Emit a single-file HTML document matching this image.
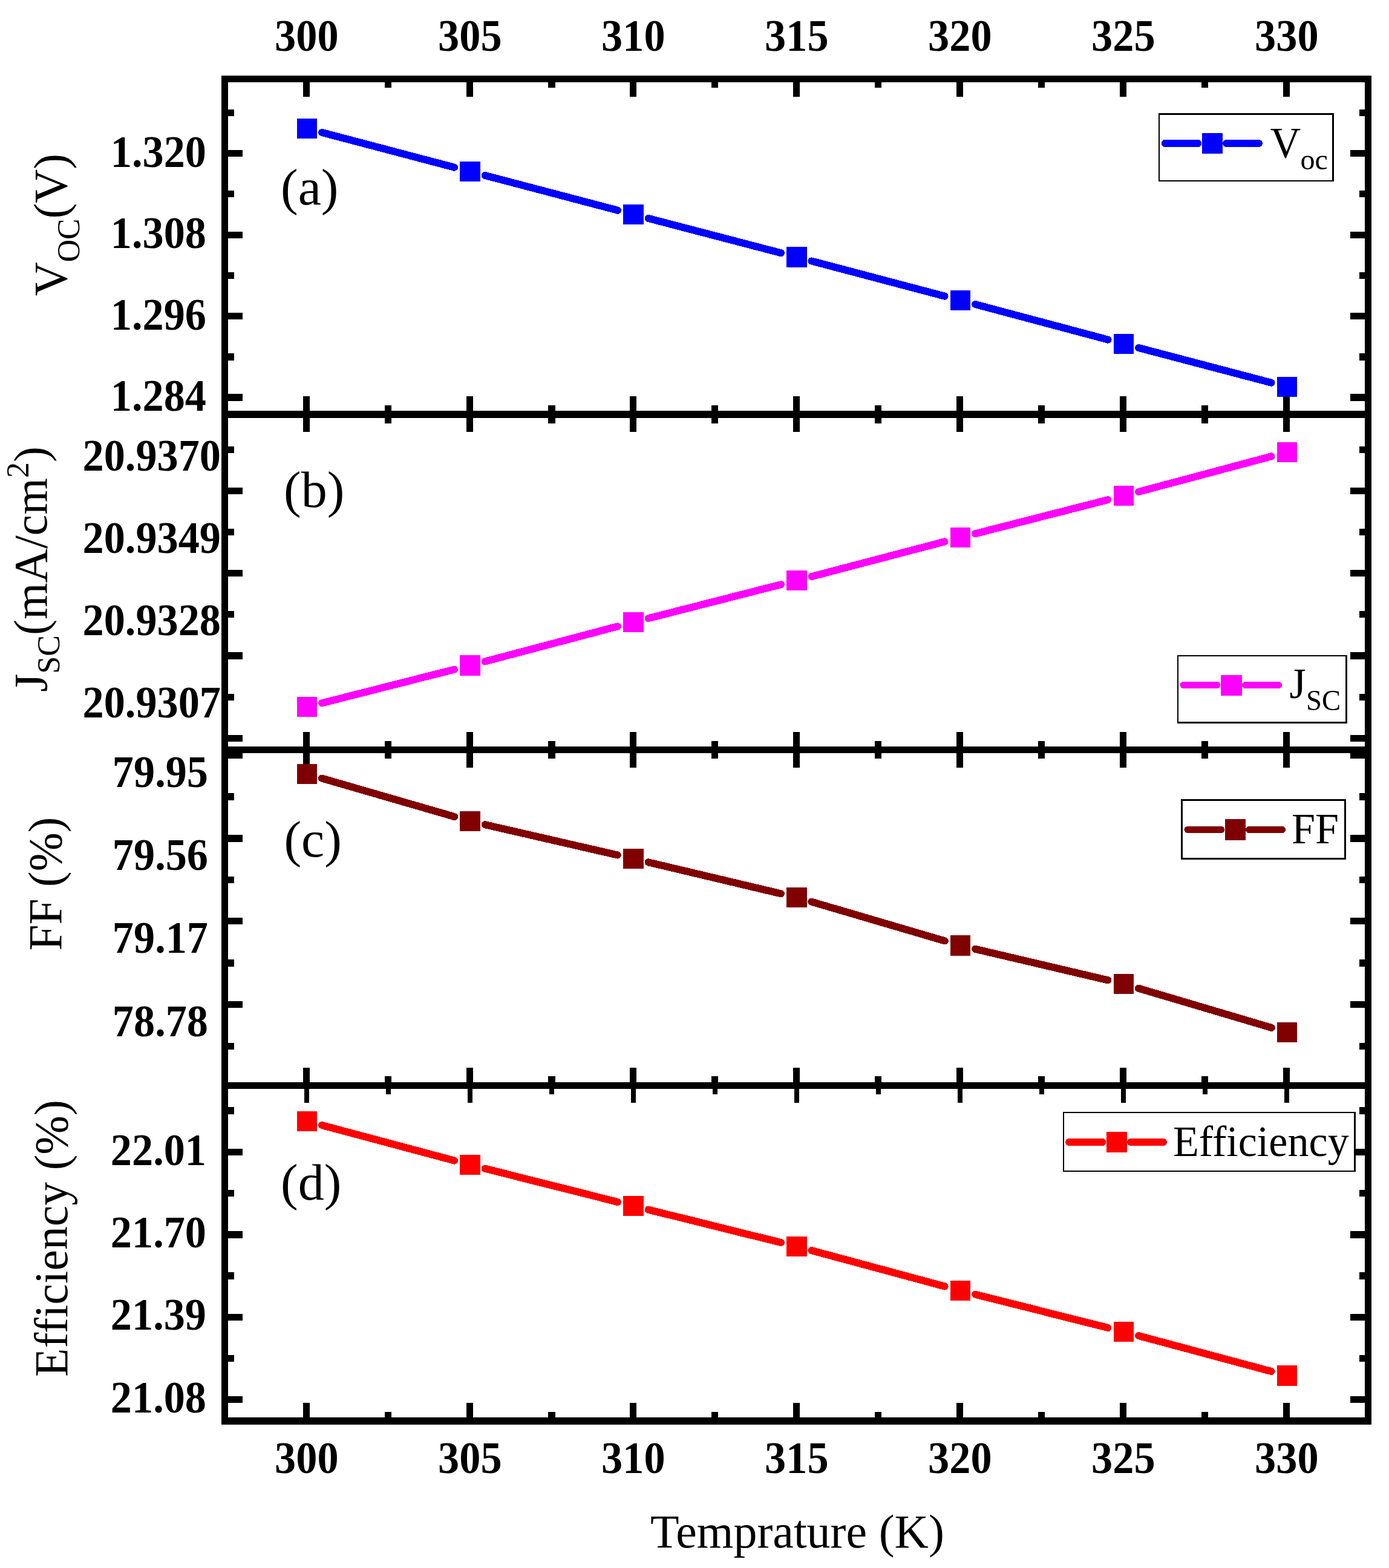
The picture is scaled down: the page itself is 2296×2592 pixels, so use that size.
<!DOCTYPE html>
<html lang="en">
<head>
<meta charset="utf-8">
<title>Temperature dependence of Voc, Jsc, FF and Efficiency</title>
<style>
html,body{margin:0;padding:0;background:#fff;}
body{width:2296px;height:2592px;overflow:hidden;}
svg{display:block;}
text{font-variant-ligatures:none;}
</style>
</head>
<body>
<svg width="2296" height="2592" viewBox="0 0 2296 2592">
<rect x="0" y="0" width="2296" height="2592" fill="#fff"/>
<g shape-rendering="crispEdges">
<rect x="366" y="125" width="11" height="2230" fill="#000"/>
<rect x="2256" y="125" width="11" height="2230" fill="#000"/>
<rect x="366" y="125" width="1901" height="11" fill="#000"/>
<rect x="366" y="679" width="1901" height="12" fill="#000"/>
<rect x="366" y="1234" width="1901" height="11" fill="#000"/>
<rect x="366" y="1789" width="1901" height="11" fill="#000"/>
<rect x="366" y="2343" width="1901" height="12" fill="#000"/>
<rect x="501" y="136" width="11" height="24" fill="#000"/>
<rect x="771" y="136" width="11" height="24" fill="#000"/>
<rect x="1041" y="136" width="11" height="24" fill="#000"/>
<rect x="1311" y="136" width="11" height="24" fill="#000"/>
<rect x="1581" y="136" width="11" height="24" fill="#000"/>
<rect x="1851" y="136" width="11" height="24" fill="#000"/>
<rect x="2121" y="136" width="11" height="24" fill="#000"/>
<rect x="636" y="136" width="11" height="9" fill="#000"/>
<rect x="906" y="136" width="12" height="9" fill="#000"/>
<rect x="1176" y="136" width="11" height="9" fill="#000"/>
<rect x="1446" y="136" width="11" height="9" fill="#000"/>
<rect x="1716" y="136" width="11" height="9" fill="#000"/>
<rect x="1986" y="136" width="11" height="9" fill="#000"/>
<rect x="501" y="655" width="11" height="59" fill="#000"/>
<rect x="771" y="655" width="11" height="59" fill="#000"/>
<rect x="1041" y="655" width="11" height="59" fill="#000"/>
<rect x="1311" y="655" width="11" height="59" fill="#000"/>
<rect x="1581" y="655" width="11" height="59" fill="#000"/>
<rect x="1851" y="655" width="11" height="59" fill="#000"/>
<rect x="2121" y="655" width="11" height="59" fill="#000"/>
<rect x="636" y="670" width="11" height="30" fill="#000"/>
<rect x="906" y="670" width="12" height="30" fill="#000"/>
<rect x="1176" y="670" width="11" height="30" fill="#000"/>
<rect x="1446" y="670" width="11" height="30" fill="#000"/>
<rect x="1716" y="670" width="11" height="30" fill="#000"/>
<rect x="1986" y="670" width="11" height="30" fill="#000"/>
<rect x="501" y="1210" width="11" height="59" fill="#000"/>
<rect x="771" y="1210" width="11" height="59" fill="#000"/>
<rect x="1041" y="1210" width="11" height="59" fill="#000"/>
<rect x="1311" y="1210" width="11" height="59" fill="#000"/>
<rect x="1581" y="1210" width="11" height="59" fill="#000"/>
<rect x="1851" y="1210" width="11" height="59" fill="#000"/>
<rect x="2121" y="1210" width="11" height="59" fill="#000"/>
<rect x="636" y="1225" width="11" height="29" fill="#000"/>
<rect x="906" y="1225" width="12" height="29" fill="#000"/>
<rect x="1176" y="1225" width="11" height="29" fill="#000"/>
<rect x="1446" y="1225" width="11" height="29" fill="#000"/>
<rect x="1716" y="1225" width="11" height="29" fill="#000"/>
<rect x="1986" y="1225" width="11" height="29" fill="#000"/>
<rect x="501" y="1765" width="11" height="35" fill="#000"/>
<rect x="771" y="1765" width="11" height="35" fill="#000"/>
<rect x="1041" y="1765" width="11" height="35" fill="#000"/>
<rect x="1311" y="1765" width="11" height="35" fill="#000"/>
<rect x="1581" y="1765" width="11" height="35" fill="#000"/>
<rect x="1851" y="1765" width="11" height="35" fill="#000"/>
<rect x="2121" y="1765" width="11" height="35" fill="#000"/>
<rect x="636" y="1779" width="11" height="21" fill="#000"/>
<rect x="906" y="1779" width="12" height="21" fill="#000"/>
<rect x="1176" y="1779" width="11" height="21" fill="#000"/>
<rect x="1446" y="1779" width="11" height="21" fill="#000"/>
<rect x="1716" y="1779" width="11" height="21" fill="#000"/>
<rect x="1986" y="1779" width="11" height="21" fill="#000"/>
<rect x="503" y="1800" width="8" height="23" fill="#000"/>
<rect x="773" y="1800" width="8" height="23" fill="#000"/>
<rect x="1043" y="1800" width="8" height="23" fill="#000"/>
<rect x="1313" y="1800" width="8" height="23" fill="#000"/>
<rect x="1583" y="1800" width="8" height="23" fill="#000"/>
<rect x="1853" y="1800" width="8" height="23" fill="#000"/>
<rect x="2123" y="1800" width="8" height="23" fill="#000"/>
<rect x="638" y="1800" width="8" height="9" fill="#000"/>
<rect x="908" y="1800" width="8" height="9" fill="#000"/>
<rect x="1178" y="1800" width="8" height="9" fill="#000"/>
<rect x="1448" y="1800" width="8" height="9" fill="#000"/>
<rect x="1718" y="1800" width="8" height="9" fill="#000"/>
<rect x="1988" y="1800" width="8" height="9" fill="#000"/>
<rect x="501" y="2319" width="11" height="24" fill="#000"/>
<rect x="771" y="2319" width="11" height="24" fill="#000"/>
<rect x="1041" y="2319" width="11" height="24" fill="#000"/>
<rect x="1311" y="2319" width="11" height="24" fill="#000"/>
<rect x="1581" y="2319" width="11" height="24" fill="#000"/>
<rect x="1851" y="2319" width="11" height="24" fill="#000"/>
<rect x="2121" y="2319" width="11" height="24" fill="#000"/>
<rect x="636" y="2334" width="11" height="9" fill="#000"/>
<rect x="906" y="2334" width="12" height="9" fill="#000"/>
<rect x="1176" y="2334" width="11" height="9" fill="#000"/>
<rect x="1446" y="2334" width="11" height="9" fill="#000"/>
<rect x="1716" y="2334" width="11" height="9" fill="#000"/>
<rect x="1986" y="2334" width="11" height="9" fill="#000"/>
<rect x="377" y="181" width="10" height="11" fill="#000"/>
<rect x="2247" y="181" width="9" height="11" fill="#000"/>
<rect x="377" y="248" width="24" height="11" fill="#000"/>
<rect x="2232" y="248" width="24" height="11" fill="#000"/>
<rect x="377" y="315" width="10" height="11" fill="#000"/>
<rect x="2247" y="315" width="9" height="11" fill="#000"/>
<rect x="377" y="383" width="24" height="11" fill="#000"/>
<rect x="2232" y="383" width="24" height="11" fill="#000"/>
<rect x="377" y="450" width="10" height="11" fill="#000"/>
<rect x="2247" y="450" width="9" height="11" fill="#000"/>
<rect x="377" y="517" width="24" height="11" fill="#000"/>
<rect x="2232" y="517" width="24" height="11" fill="#000"/>
<rect x="377" y="584" width="10" height="12" fill="#000"/>
<rect x="2247" y="584" width="9" height="12" fill="#000"/>
<rect x="377" y="651" width="24" height="12" fill="#000"/>
<rect x="2232" y="651" width="24" height="12" fill="#000"/>
<rect x="377" y="738" width="10" height="11" fill="#000"/>
<rect x="2247" y="738" width="9" height="11" fill="#000"/>
<rect x="377" y="806" width="24" height="11" fill="#000"/>
<rect x="2232" y="806" width="24" height="11" fill="#000"/>
<rect x="377" y="874" width="10" height="11" fill="#000"/>
<rect x="2247" y="874" width="9" height="11" fill="#000"/>
<rect x="377" y="942" width="24" height="11" fill="#000"/>
<rect x="2232" y="942" width="24" height="11" fill="#000"/>
<rect x="377" y="1010" width="10" height="11" fill="#000"/>
<rect x="2247" y="1010" width="9" height="11" fill="#000"/>
<rect x="377" y="1078" width="24" height="12" fill="#000"/>
<rect x="2232" y="1078" width="24" height="12" fill="#000"/>
<rect x="377" y="1147" width="10" height="11" fill="#000"/>
<rect x="2247" y="1147" width="9" height="11" fill="#000"/>
<rect x="377" y="1215" width="24" height="11" fill="#000"/>
<rect x="2232" y="1215" width="24" height="11" fill="#000"/>
<rect x="377" y="1243" width="24" height="11" fill="#000"/>
<rect x="2232" y="1243" width="24" height="11" fill="#000"/>
<rect x="377" y="1311" width="10" height="12" fill="#000"/>
<rect x="2247" y="1311" width="9" height="12" fill="#000"/>
<rect x="377" y="1380" width="24" height="12" fill="#000"/>
<rect x="2232" y="1380" width="24" height="12" fill="#000"/>
<rect x="377" y="1449" width="10" height="11" fill="#000"/>
<rect x="2247" y="1449" width="9" height="11" fill="#000"/>
<rect x="377" y="1517" width="24" height="11" fill="#000"/>
<rect x="2232" y="1517" width="24" height="11" fill="#000"/>
<rect x="377" y="1586" width="10" height="12" fill="#000"/>
<rect x="2247" y="1586" width="9" height="12" fill="#000"/>
<rect x="377" y="1655" width="24" height="11" fill="#000"/>
<rect x="2232" y="1655" width="24" height="11" fill="#000"/>
<rect x="377" y="1724" width="10" height="11" fill="#000"/>
<rect x="2247" y="1724" width="9" height="11" fill="#000"/>
<rect x="377" y="1830" width="10" height="12" fill="#000"/>
<rect x="2247" y="1830" width="9" height="12" fill="#000"/>
<rect x="377" y="1899" width="24" height="11" fill="#000"/>
<rect x="2232" y="1899" width="24" height="11" fill="#000"/>
<rect x="377" y="1967" width="10" height="11" fill="#000"/>
<rect x="2247" y="1967" width="9" height="11" fill="#000"/>
<rect x="377" y="2035" width="24" height="12" fill="#000"/>
<rect x="2232" y="2035" width="24" height="12" fill="#000"/>
<rect x="377" y="2103" width="10" height="12" fill="#000"/>
<rect x="2247" y="2103" width="9" height="12" fill="#000"/>
<rect x="377" y="2172" width="24" height="11" fill="#000"/>
<rect x="2232" y="2172" width="24" height="11" fill="#000"/>
<rect x="377" y="2240" width="10" height="11" fill="#000"/>
<rect x="2247" y="2240" width="9" height="11" fill="#000"/>
<rect x="377" y="2308" width="24" height="11" fill="#000"/>
<rect x="2232" y="2308" width="24" height="11" fill="#000"/>
</g>
<g stroke="#0000ff" stroke-width="12.1" stroke-linecap="round" fill="none" shape-rendering="crispEdges">
<line x1="532.06" y1="218.97" x2="750.99" y2="276.65"/>
<line x1="801.56" y1="289.96" x2="1020.98" y2="347.66"/>
<line x1="1071.58" y1="360.92" x2="1290.97" y2="418.20"/>
<line x1="1341.56" y1="431.49" x2="1561.49" y2="489.63"/>
<line x1="1612.04" y1="503.04" x2="1831.51" y2="561.57"/>
<line x1="1882.06" y1="574.96" x2="2101.48" y2="632.66"/>
</g>
<g fill="#0000ff" shape-rendering="crispEdges">
<rect x="491" y="196" width="33" height="33" fill="#0000ff"/>
<rect x="760" y="267" width="34" height="33" fill="#0000ff"/>
<rect x="1030" y="338" width="34" height="33" fill="#0000ff"/>
<rect x="1300" y="408" width="34" height="34" fill="#0000ff"/>
<rect x="1571" y="480" width="33" height="33" fill="#0000ff"/>
<rect x="1841" y="552" width="33" height="33" fill="#0000ff"/>
<rect x="2111" y="623" width="33" height="33" fill="#0000ff"/>
</g>
<g stroke="#ff00ff" stroke-width="12.1" stroke-linecap="round" fill="none" shape-rendering="crispEdges">
<line x1="532.12" y1="1162.24" x2="750.93" y2="1106.63"/>
<line x1="801.55" y1="1093.50" x2="1021.00" y2="1035.39"/>
<line x1="1071.61" y1="1022.21" x2="1290.94" y2="966.16"/>
<line x1="1341.57" y1="953.05" x2="1561.48" y2="895.33"/>
<line x1="1612.11" y1="882.21" x2="1831.44" y2="826.16"/>
<line x1="1882.04" y1="812.96" x2="2101.51" y2="754.43"/>
</g>
<g fill="#ff00ff" shape-rendering="crispEdges">
<rect x="491" y="1152" width="33" height="33" fill="#ff00ff"/>
<rect x="760" y="1083" width="34" height="34" fill="#ff00ff"/>
<rect x="1030" y="1012" width="34" height="33" fill="#ff00ff"/>
<rect x="1300" y="943" width="34" height="33" fill="#ff00ff"/>
<rect x="1571" y="872" width="33" height="33" fill="#ff00ff"/>
<rect x="1841" y="803" width="33" height="33" fill="#ff00ff"/>
<rect x="2111" y="731" width="33" height="33" fill="#ff00ff"/>
</g>
<g stroke="#800000" stroke-width="12.1" stroke-linecap="round" fill="none" shape-rendering="crispEdges">
<line x1="531.90" y1="1286.56" x2="751.16" y2="1350.02"/>
<line x1="801.76" y1="1363.18" x2="1020.78" y2="1413.48"/>
<line x1="1071.72" y1="1425.36" x2="1290.83" y2="1477.30"/>
<line x1="1341.37" y1="1490.66" x2="1561.69" y2="1555.41"/>
<line x1="1612.23" y1="1568.82" x2="1831.31" y2="1620.34"/>
<line x1="1881.85" y1="1633.72" x2="2101.71" y2="1698.86"/>
</g>
<g fill="#800000" shape-rendering="crispEdges">
<rect x="491" y="1263" width="33" height="33" fill="#800000"/>
<rect x="760" y="1341" width="34" height="33" fill="#800000"/>
<rect x="1030" y="1403" width="34" height="33" fill="#800000"/>
<rect x="1300" y="1467" width="34" height="33" fill="#800000"/>
<rect x="1571" y="1546" width="33" height="34" fill="#800000"/>
<rect x="1841" y="1610" width="33" height="33" fill="#800000"/>
<rect x="2111" y="1690" width="33" height="33" fill="#800000"/>
</g>
<g stroke="#ff0000" stroke-width="12.1" stroke-linecap="round" fill="none" shape-rendering="crispEdges">
<line x1="532.04" y1="1860.06" x2="751.01" y2="1918.56"/>
<line x1="801.63" y1="1931.70" x2="1020.91" y2="1986.93"/>
<line x1="1071.65" y1="1999.62" x2="1290.89" y2="2054.02"/>
<line x1="1341.52" y1="2067.12" x2="1561.53" y2="2126.49"/>
<line x1="1612.13" y1="2139.70" x2="1831.41" y2="2194.93"/>
<line x1="1882.03" y1="2208.09" x2="2101.52" y2="2267.02"/>
</g>
<g fill="#ff0000" shape-rendering="crispEdges">
<rect x="491" y="1837" width="33" height="33" fill="#ff0000"/>
<rect x="760" y="1909" width="34" height="33" fill="#ff0000"/>
<rect x="1030" y="1977" width="34" height="33" fill="#ff0000"/>
<rect x="1300" y="2044" width="34" height="33" fill="#ff0000"/>
<rect x="1571" y="2117" width="33" height="33" fill="#ff0000"/>
<rect x="1841" y="2185" width="33" height="33" fill="#ff0000"/>
<rect x="2111" y="2257" width="33" height="34" fill="#ff0000"/>
</g>
<g shape-rendering="crispEdges">
<rect x="1915" y="187" width="290" height="113" fill="#fff"/>
<rect x="1915" y="187" width="290" height="3" fill="#000"/>
<rect x="1915" y="298" width="290" height="2" fill="#000"/>
<rect x="1915" y="187" width="2" height="113" fill="#000"/>
<rect x="2202" y="187" width="3" height="113" fill="#000"/>
</g>
<g stroke="#0000ff" stroke-width="12" stroke-linecap="round" shape-rendering="crispEdges"><line x1="1925.5" y1="237.0" x2="1980.5" y2="237.0"/><line x1="2027.0" y1="237.0" x2="2081.0" y2="237.0"/></g>
<g shape-rendering="crispEdges">
<rect x="1987" y="220" width="34" height="34" fill="#0000ff"/>
</g>
<g shape-rendering="crispEdges">
<rect x="1946" y="1083" width="281" height="113" fill="#fff"/>
<rect x="1946" y="1083" width="281" height="2" fill="#000"/>
<rect x="1946" y="1193" width="281" height="3" fill="#000"/>
<rect x="1946" y="1083" width="2" height="113" fill="#000"/>
<rect x="2224" y="1083" width="3" height="113" fill="#000"/>
</g>
<g stroke="#ff00ff" stroke-width="11" stroke-linecap="round" shape-rendering="crispEdges"><line x1="1956.0" y1="1132.5" x2="2012.0" y2="1132.5"/><line x1="2058.5" y1="1132.5" x2="2113.5" y2="1132.5"/></g>
<g shape-rendering="crispEdges">
<rect x="2018" y="1116" width="35" height="34" fill="#ff00ff"/>
</g>
<g shape-rendering="crispEdges">
<rect x="1952" y="1321" width="273" height="100" fill="#fff"/>
<rect x="1952" y="1321" width="273" height="3" fill="#000"/>
<rect x="1952" y="1418" width="273" height="3" fill="#000"/>
<rect x="1952" y="1321" width="3" height="100" fill="#000"/>
<rect x="2222" y="1321" width="3" height="100" fill="#000"/>
</g>
<g stroke="#800000" stroke-width="11" stroke-linecap="round" shape-rendering="crispEdges"><line x1="1963.0" y1="1371.5" x2="2019.0" y2="1371.5"/><line x1="2064.5" y1="1371.5" x2="2119.5" y2="1371.5"/></g>
<g shape-rendering="crispEdges">
<rect x="2025" y="1354" width="34" height="35" fill="#800000"/>
</g>
<g shape-rendering="crispEdges">
<rect x="1757" y="1838" width="484" height="99" fill="#fff"/>
<rect x="1757" y="1838" width="484" height="2" fill="#000"/>
<rect x="1757" y="1935" width="484" height="2" fill="#000"/>
<rect x="1757" y="1838" width="2" height="99" fill="#000"/>
<rect x="2238" y="1838" width="3" height="99" fill="#000"/>
</g>
<g stroke="#ff0000" stroke-width="12" stroke-linecap="round" shape-rendering="crispEdges"><line x1="1767.0" y1="1888.0" x2="1822.5" y2="1888.0"/><line x1="1869.0" y1="1888.0" x2="1923.0" y2="1888.0"/></g>
<g shape-rendering="crispEdges">
<rect x="1829" y="1871" width="34" height="34" fill="#ff0000"/>
</g>
<g font-family="'Liberation Serif',serif" fill="#000">
<text transform="translate(506.8,84.3) scale(0.95,1)" font-size="74" font-weight="bold" text-anchor="middle">300</text>
<text transform="translate(506.8,2435.2) scale(0.95,1)" font-size="74" font-weight="bold" text-anchor="middle">300</text>
<text transform="translate(776.8,84.3) scale(0.95,1)" font-size="74" font-weight="bold" text-anchor="middle">305</text>
<text transform="translate(776.8,2435.2) scale(0.95,1)" font-size="74" font-weight="bold" text-anchor="middle">305</text>
<text transform="translate(1046.8,84.3) scale(0.95,1)" font-size="74" font-weight="bold" text-anchor="middle">310</text>
<text transform="translate(1046.8,2435.2) scale(0.95,1)" font-size="74" font-weight="bold" text-anchor="middle">310</text>
<text transform="translate(1316.8,84.3) scale(0.95,1)" font-size="74" font-weight="bold" text-anchor="middle">315</text>
<text transform="translate(1316.8,2435.2) scale(0.95,1)" font-size="74" font-weight="bold" text-anchor="middle">315</text>
<text transform="translate(1586.8,84.3) scale(0.95,1)" font-size="74" font-weight="bold" text-anchor="middle">320</text>
<text transform="translate(1586.8,2435.2) scale(0.95,1)" font-size="74" font-weight="bold" text-anchor="middle">320</text>
<text transform="translate(1856.8,84.3) scale(0.95,1)" font-size="74" font-weight="bold" text-anchor="middle">325</text>
<text transform="translate(1856.8,2435.2) scale(0.95,1)" font-size="74" font-weight="bold" text-anchor="middle">325</text>
<text transform="translate(2126.8,84.3) scale(0.95,1)" font-size="74" font-weight="bold" text-anchor="middle">330</text>
<text transform="translate(2126.8,2435.2) scale(0.95,1)" font-size="74" font-weight="bold" text-anchor="middle">330</text>
<text transform="translate(341,275.5) scale(0.95,1)" font-size="74" font-weight="bold" text-anchor="end">1.320</text>
<text transform="translate(341,410) scale(0.95,1)" font-size="74" font-weight="bold" text-anchor="end">1.308</text>
<text transform="translate(341,544.5) scale(0.95,1)" font-size="74" font-weight="bold" text-anchor="end">1.296</text>
<text transform="translate(341,679) scale(0.95,1)" font-size="74" font-weight="bold" text-anchor="end">1.284</text>
<text transform="translate(365,777.7) scale(0.95,1)" font-size="74" font-weight="bold" text-anchor="end">20.9370</text>
<text transform="translate(365,914) scale(0.95,1)" font-size="74" font-weight="bold" text-anchor="end">20.9349</text>
<text transform="translate(365,1050) scale(0.95,1)" font-size="74" font-weight="bold" text-anchor="end">20.9328</text>
<text transform="translate(365,1186) scale(0.95,1)" font-size="74" font-weight="bold" text-anchor="end">20.9307</text>
<text transform="translate(344,1301) scale(0.95,1)" font-size="74" font-weight="bold" text-anchor="end">79.95</text>
<text transform="translate(344,1438) scale(0.95,1)" font-size="74" font-weight="bold" text-anchor="end">79.56</text>
<text transform="translate(344,1575) scale(0.95,1)" font-size="74" font-weight="bold" text-anchor="end">79.17</text>
<text transform="translate(344,1712.5) scale(0.95,1)" font-size="74" font-weight="bold" text-anchor="end">78.78</text>
<text transform="translate(341,1925.8) scale(0.95,1)" font-size="74" font-weight="bold" text-anchor="end">22.01</text>
<text transform="translate(341,2061.7) scale(0.95,1)" font-size="74" font-weight="bold" text-anchor="end">21.70</text>
<text transform="translate(341,2197.9) scale(0.95,1)" font-size="74" font-weight="bold" text-anchor="end">21.39</text>
<text transform="translate(341,2334.7) scale(0.95,1)" font-size="74" font-weight="bold" text-anchor="end">21.08</text>
<text transform="translate(464,338) scale(1.024,1)" font-size="84" text-anchor="start">(a)</text>
<text transform="translate(469,838) scale(1.024,1)" font-size="84" text-anchor="start">(b)</text>
<text transform="translate(469.4,1416) scale(1.024,1)" font-size="84" text-anchor="start">(c)</text>
<text transform="translate(464,1983) scale(1.024,1)" font-size="84" text-anchor="start">(d)</text>
<text transform="translate(2099.5,260) scale(0.974,1)" font-size="72" text-anchor="start">V</text>
<text x="2149.5" y="279.5" font-size="48" text-anchor="start">oc</text>
<text transform="translate(2131.5,1154) scale(0.974,1)" font-size="72" text-anchor="start">J</text>
<text transform="translate(2159,1174) scale(0.974,1)" font-size="48" text-anchor="start">SC</text>
<text transform="translate(2135,1393.8) scale(0.974,1)" font-size="72" text-anchor="start">FF</text>
<text transform="translate(1939,1910.6) scale(0.974,1)" font-size="72" text-anchor="start">Efficiency</text>
<text transform="translate(1075,2557.5) scale(0.987,1)" font-size="79" text-anchor="start">Temprature (K)</text>
<text transform="translate(109.7,489) rotate(-90) scale(0.992,1)" font-size="78">V<tspan font-size="52" dy="21">OC</tspan><tspan dy="-21">(V)</tspan></text>
<text transform="translate(77,1144) rotate(-90) scale(1.0,1)" font-size="78">J<tspan font-size="52" dy="21">SC</tspan><tspan dy="-21">(mA/cm</tspan><tspan font-size="52" dy="-30">2</tspan><tspan dy="30">)</tspan></text>
<text transform="translate(101.2,1571.5) rotate(-90) scale(0.99,1)" font-size="78">FF (%)</text>
<text transform="translate(111.2,2276) rotate(-90) scale(0.996,1)" font-size="78">Efficiency (%)</text>
</g>
</svg>
</body>
</html>
